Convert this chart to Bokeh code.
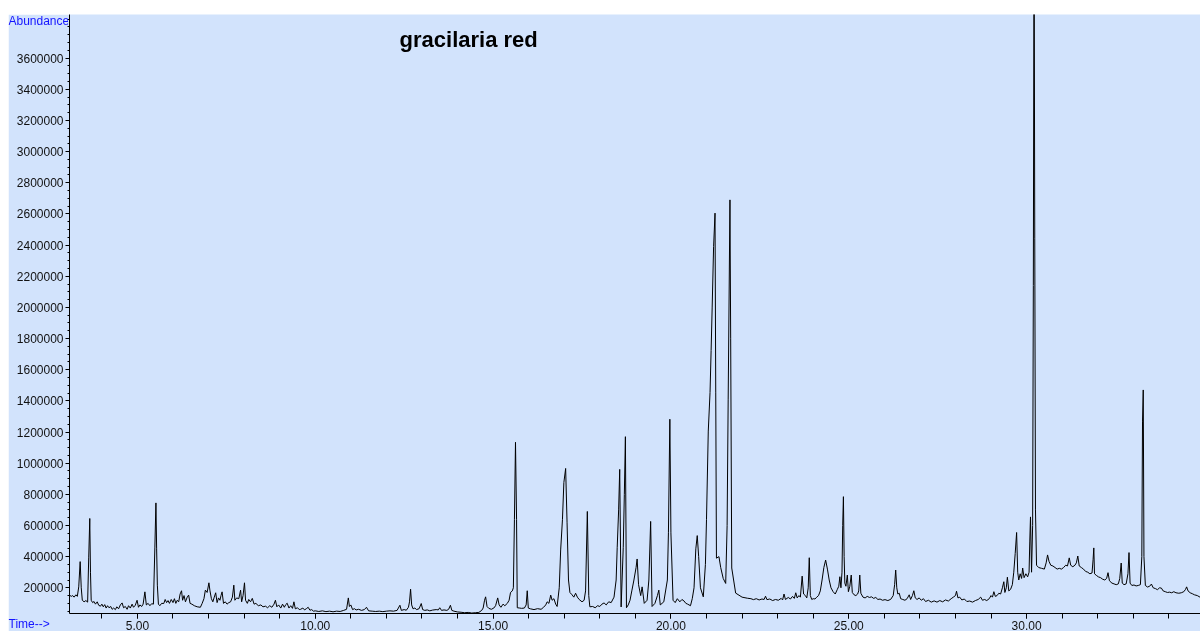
from bokeh.plotting import figure
from bokeh.models import Label, Range1d, FixedTicker, PrintfTickFormatter, BasicTickFormatter
from bokeh.embed import file_html
from bokeh.resources import INLINE

# --- chromatogram: (retention time [min], abundance [thousands]) ---
trace_3_to_10 = [
    (3.09, 153), (3.14, 145), (3.18, 150), (3.22, 140), (3.27, 155), (3.31, 145), (3.35, 206), (3.39, 368),
    (3.42, 200), (3.45, 120), (3.50, 110), (3.55, 118), (3.60, 108), (3.63, 392), (3.66, 645), (3.68, 300),
    (3.70, 120), (3.74, 105), (3.78, 112), (3.82, 95), (3.87, 110), (3.91, 88), (3.96, 82), (4.00, 95),
    (4.04, 78), (4.08, 92), (4.12, 70), (4.16, 85), (4.20, 72), (4.25, 80), (4.29, 62), (4.33, 70),
    (4.38, 60), (4.42, 78), (4.47, 65), (4.52, 90), (4.57, 103), (4.61, 72), (4.66, 80), (4.71, 62),
    (4.75, 85), (4.80, 70), (4.85, 95), (4.89, 75), (4.94, 88), (4.99, 120), (5.03, 75), (5.07, 90),
    (5.12, 80), (5.16, 95), (5.21, 174), (5.25, 90), (5.30, 100), (5.35, 85), (5.40, 98), (5.45, 95),
    (5.49, 456), (5.52, 745), (5.54, 450), (5.56, 217), (5.59, 95), (5.63, 85), (5.68, 100), (5.74, 99),
    (5.78, 125), (5.82, 105), (5.86, 118), (5.90, 100), (5.95, 125), (6.00, 105), (6.04, 130), (6.08, 100),
    (6.12, 120), (6.16, 110), (6.20, 160), (6.24, 181), (6.27, 120), (6.31, 150), (6.35, 110), (6.40, 140),
    (6.44, 153), (6.48, 100), (6.53, 95), (6.60, 85), (6.68, 78), (6.77, 75), (6.82, 100), (6.87, 130),
    (6.91, 185), (6.96, 170), (7.01, 232), (7.04, 180), (7.08, 130), (7.12, 110), (7.16, 140), (7.20, 168),
    (7.24, 105), (7.28, 135), (7.32, 120), (7.35, 150), (7.38, 174), (7.42, 100), (7.47, 110), (7.52, 95),
    (7.57, 105), (7.62, 110), (7.67, 140), (7.71, 217), (7.74, 120), (7.79, 135), (7.85, 130), (7.90, 185),
    (7.93, 110), (7.97, 150), (8.01, 232), (8.04, 120), (8.09, 100), (8.13, 125), (8.18, 110), (8.23, 132),
    (8.28, 95), (8.33, 100), (8.40, 85), (8.47, 90), (8.53, 78), (8.60, 82), (8.66, 72), (8.72, 85),
    (8.78, 75), (8.84, 95), (8.88, 120), (8.92, 78), (8.97, 90), (9.03, 70), (9.08, 95), (9.13, 75),
    (9.17, 92), (9.21, 101), (9.26, 70), (9.31, 85), (9.36, 68), (9.40, 110), (9.44, 65), (9.50, 72),
    (9.55, 60), (9.59, 62),
]

trace_10_to_22 = [
    (9.65, 70), (9.70, 58), (9.75, 66), (9.80, 75), (9.85, 56), (9.90, 60), (9.95, 50), (10.00, 52),
    (10.10, 48), (10.20, 52), (10.30, 47), (10.40, 50), (10.50, 46), (10.60, 50), (10.70, 48), (10.80, 55),
    (10.88, 62), (10.93, 135), (10.96, 80), (11.00, 90), (11.05, 60), (11.10, 66), (11.15, 58), (11.22, 62),
    (11.30, 55), (11.38, 60), (11.44, 75), (11.50, 52), (11.60, 50), (11.70, 48), (11.80, 50), (11.90, 47),
    (12.00, 50), (12.10, 52), (12.20, 50), (12.30, 55), (12.38, 88), (12.42, 55), (12.50, 60), (12.56, 56),
    (12.62, 75), (12.65, 110), (12.68, 191), (12.71, 90), (12.75, 65), (12.80, 70), (12.85, 60), (12.92, 66),
    (12.98, 99), (13.02, 60), (13.08, 55), (13.15, 58), (13.22, 52), (13.30, 57), (13.40, 60), (13.46, 58),
    (13.50, 72), (13.55, 55), (13.62, 58), (13.70, 55), (13.75, 62), (13.80, 88), (13.84, 55), (13.90, 50),
    (14.00, 45), (14.10, 43), (14.20, 40), (14.30, 42), (14.40, 38), (14.50, 40), (14.60, 42), (14.68, 55),
    (14.72, 70), (14.76, 120), (14.79, 142), (14.83, 80), (14.88, 68), (14.95, 62), (15.02, 70), (15.07, 85),
    (15.13, 135), (15.17, 90), (15.22, 75), (15.28, 95), (15.33, 85), (15.40, 100), (15.45, 120), (15.49, 170),
    (15.54, 180), (15.57, 200), (15.60, 637), (15.63, 1134), (15.66, 637), (15.68, 72), (15.75, 70), (15.80, 68),
    (15.88, 70), (15.93, 90), (15.96, 181), (15.99, 70), (16.05, 65), (16.15, 60), (16.25, 66), (16.35, 62),
    (16.42, 75), (16.48, 90), (16.52, 110), (16.57, 100), (16.62, 153), (16.66, 120), (16.71, 130), (16.76, 95),
    (16.80, 80), (16.86, 200), (16.90, 443), (16.95, 637), (16.99, 876), (17.04, 966), (17.08, 617), (17.12, 250),
    (17.16, 170), (17.22, 155), (17.27, 140), (17.32, 165), (17.37, 140), (17.42, 125), (17.50, 110), (17.56, 120),
    (17.60, 180), (17.65, 690), (17.69, 150), (17.72, 78), (17.80, 80), (17.87, 72), (17.94, 85), (18.00, 80),
    (18.06, 95), (18.12, 103), (18.18, 90), (18.25, 110), (18.32, 105), (18.40, 140), (18.46, 250), (18.49, 460),
    (18.53, 700), (18.56, 960), (18.60, 77), (18.66, 460), (18.69, 800), (18.72, 1170), (18.75, 72), (18.80, 90),
    (18.85, 120), (18.90, 180), (18.96, 250), (19.02, 330), (19.05, 385), (19.09, 220), (19.15, 150), (19.19, 206),
    (19.25, 100), (19.33, 120), (19.38, 250), (19.43, 626), (19.47, 80), (19.55, 100), (19.62, 150), (19.66, 185),
    (19.70, 90), (19.80, 110), (19.90, 250), (19.93, 553), (19.97, 1282), (20.00, 553), (20.06, 120), (20.12, 105),
    (20.18, 130), (20.25, 110), (20.31, 125), (20.37, 115), (20.42, 100), (20.47, 95), (20.55, 85), (20.60, 130),
    (20.65, 200), (20.70, 450), (20.74, 535), (20.78, 400), (20.83, 200), (20.91, 142), (20.97, 350), (21.00, 637),
    (21.05, 1206), (21.10, 1454), (21.13, 1723), (21.16, 2002), (21.20, 2390), (21.24, 2605), (21.26, 1456), (21.28, 390),
    (21.35, 400), (21.40, 330), (21.47, 260), (21.54, 228), (21.58, 600), (21.61, 1411), (21.66, 2690), (21.68, 1798),
    (21.71, 327), (21.82, 166), (22.00, 140),
]

trace_22_to_35 = [
    (22.15, 133), (22.25, 130), (22.32, 124), (22.40, 130), (22.48, 122), (22.56, 128), (22.62, 125), (22.66, 146),
    (22.70, 124), (22.78, 128), (22.86, 118), (22.94, 125), (23.02, 120), (23.10, 132), (23.14, 122), (23.18, 160),
    (23.22, 125), (23.30, 138), (23.36, 128), (23.42, 145), (23.47, 132), (23.51, 168), (23.55, 135), (23.60, 150),
    (23.64, 140), (23.69, 275), (23.73, 160), (23.78, 150), (23.82, 135), (23.86, 200), (23.89, 393), (23.92, 150),
    (23.96, 125), (24.00, 130), (24.05, 128), (24.10, 140), (24.15, 150), (24.20, 180), (24.25, 250), (24.30, 330),
    (24.35, 378), (24.40, 320), (24.45, 250), (24.50, 200), (24.56, 175), (24.62, 160), (24.68, 190), (24.72, 210),
    (24.75, 271), (24.78, 200), (24.81, 300), (24.83, 600), (24.85, 785), (24.87, 400), (24.89, 230), (24.92, 210),
    (24.96, 282), (24.99, 175), (25.03, 210), (25.07, 282), (25.10, 170), (25.15, 155), (25.20, 150), (25.25, 160),
    (25.28, 180), (25.31, 282), (25.34, 165), (25.40, 140), (25.46, 135), (25.52, 145), (25.58, 138), (25.64, 142),
    (25.70, 132), (25.76, 138), (25.82, 125), (25.88, 128), (25.95, 120), (26.02, 124), (26.10, 118), (26.18, 126),
    (26.25, 150), (26.29, 220), (26.32, 314), (26.35, 200), (26.38, 160), (26.42, 165), (26.46, 130), (26.52, 125),
    (26.58, 120), (26.64, 130), (26.70, 155), (26.74, 125), (26.79, 150), (26.83, 181), (26.87, 135), (26.92, 125),
    (26.98, 135), (27.04, 120), (27.10, 130), (27.16, 112), (27.24, 120), (27.32, 108), (27.40, 116), (27.48, 108),
    (27.56, 118), (27.64, 110), (27.72, 122), (27.80, 115), (27.88, 130), (27.94, 140), (28.00, 150), (28.03, 178),
    (28.07, 135), (28.12, 140), (28.18, 122), (28.25, 128), (28.32, 112), (28.40, 115), (28.48, 108), (28.56, 118),
    (28.64, 125), (28.71, 140), (28.76, 120), (28.82, 125), (28.88, 118), (28.95, 130), (29.00, 150), (29.04, 140),
    (29.08, 175), (29.12, 145), (29.17, 150), (29.22, 165), (29.27, 160), (29.32, 200), (29.36, 239), (29.39, 170),
    (29.43, 200), (29.46, 268), (29.50, 180), (29.55, 190), (29.60, 220), (29.64, 300), (29.68, 420), (29.72, 555),
    (29.75, 300), (29.78, 250), (29.82, 290), (29.86, 260), (29.89, 327), (29.93, 265), (29.98, 290), (30.03, 270),
    (30.07, 300), (30.09, 500), (30.11, 655), (30.14, 300), (30.17, 600), (30.19, 2140), (30.21, 4600), (30.23, 2440),
    (30.25, 700), (30.28, 345), (30.34, 330), (30.42, 325), (30.50, 320), (30.55, 360), (30.59, 411), (30.63, 370),
    (30.68, 345), (30.74, 340), (30.80, 330), (30.86, 320), (30.92, 325), (30.98, 320), (31.04, 330), (31.10, 345),
    (31.15, 340), (31.20, 392), (31.24, 345), (31.30, 335), (31.36, 345), (31.40, 360), (31.44, 404), (31.48, 340),
    (31.54, 330), (31.60, 320), (31.66, 305), (31.72, 300), (31.78, 290), (31.84, 295), (31.87, 380), (31.89, 456),
    (31.91, 290), (31.96, 280), (32.02, 270), (32.08, 265), (32.14, 255), (32.20, 250), (32.25, 260), (32.29, 297),
    (32.33, 245), (32.40, 230), (32.46, 225), (32.52, 220), (32.58, 225), (32.62, 260), (32.66, 359), (32.69, 230),
    (32.74, 220), (32.80, 225), (32.85, 290), (32.88, 426), (32.91, 230), (32.96, 215), (33.02, 218), (33.08, 212),
    (33.14, 215), (33.20, 220), (33.24, 400), (33.26, 1270), (33.28, 1470), (33.30, 400), (33.34, 215), (33.40, 205),
    (33.46, 210), (33.51, 224), (33.56, 200), (33.62, 195), (33.68, 188), (33.74, 200), (33.79, 198), (33.84, 180),
    (33.90, 175), (33.96, 170), (34.02, 172), (34.08, 168), (34.14, 175), (34.20, 168), (34.28, 165), (34.35, 168),
    (34.42, 175), (34.47, 190), (34.50, 206), (34.54, 180), (34.60, 168), (34.66, 162), (34.72, 155), (34.80, 150),
    (34.89, 138),
]

x_major_ticks = [5, 10, 15, 20, 25, 30]
x_minor_ticks = list(range(3, 36))
y_major_ticks = list(range(200000, 3600001, 200000))
y_minor_ticks = list(range(50000, 3900001, 50000))

title_text = "gracilaria red"
y_label_text = "Abundance"
x_label_text = "Time-->"

trace = trace_3_to_10 + trace_10_to_22 + trace_22_to_35
time_min = [t for t, _ in trace]
abundance = [a * 1000 for _, a in trace]

BG = "#d2e3fc"
FONT = "Liberation Sans"
LABEL_BLUE = "#1414ff"

p = figure(frame_width=1131, frame_height=599,
           x_range=Range1d(3.09, 34.89), y_range=Range1d(35000, 3880000),
           output_backend="svg", toolbar_location=None,
           min_border_left=61, min_border_right=0, min_border_top=0, min_border_bottom=18)
p.styles = {"position": "fixed", "top": "14px", "left": "8px"}

p.background_fill_color = BG
p.border_fill_color = BG
p.outline_line_color = None
p.grid.visible = False

p.line(time_min, abundance, line_color="#000000", line_width=1)

# x axis
xa = p.xaxis[0]
xa.ticker = FixedTicker(ticks=x_major_ticks, minor_ticks=x_minor_ticks)
xa.formatter = PrintfTickFormatter(format="%.2f")
xa.axis_line_color = "#000000"
xa.major_tick_in = 0
xa.major_tick_out = 5
xa.minor_tick_in = 0
xa.minor_tick_out = 5
xa.major_tick_line_color = "#000000"
xa.minor_tick_line_color = "#000000"
xa.major_label_text_font = FONT
xa.major_label_text_font_size = "12px"
xa.major_label_text_color = "#111111"
xa.major_label_standoff = 2

# y axis
ya = p.yaxis[0]
ya.ticker = FixedTicker(ticks=y_major_ticks, minor_ticks=y_minor_ticks)
ya.formatter = BasicTickFormatter(use_scientific=False)
ya.axis_line_color = "#000000"
ya.major_tick_in = 0
ya.major_tick_out = 4
ya.minor_tick_in = 0
ya.minor_tick_out = 2
ya.major_tick_line_color = "#000000"
ya.minor_tick_line_color = "#000000"
ya.major_label_text_font = FONT
ya.major_label_text_font_size = "12px"
ya.major_label_text_color = "#111111"
ya.major_label_standoff = 2

p.add_layout(Label(x=12.37, y=3721000, text=title_text, text_font=FONT,
                   text_font_size="22px", text_font_style="bold", text_color="#000000",
                   text_align="left", text_baseline="middle"))


def corner_label(text, top, height):
    f = figure(width=60, height=height, x_range=Range1d(0, 1), y_range=Range1d(0, 1),
               output_backend="svg", toolbar_location=None,
               x_axis_location=None, y_axis_location=None,
               min_border=0, min_border_left=0, min_border_right=0,
               min_border_top=0, min_border_bottom=0)
    f.styles = {"position": "fixed", "top": f"{top}px", "left": "8px"}
    f.background_fill_alpha = 0
    f.border_fill_alpha = 0
    f.outline_line_color = None
    f.grid.visible = False
    f.add_layout(Label(x=0, y=0.5, text=text, text_font=FONT, text_font_size="12px",
                       text_color=LABEL_BLUE, text_align="left", text_baseline="middle"))
    return f


fa = corner_label(y_label_text, 14, 13)
ft = corner_label(x_label_text, 616, 14)

open("out.html", "w").write(file_html([p, fa, ft], INLINE))
